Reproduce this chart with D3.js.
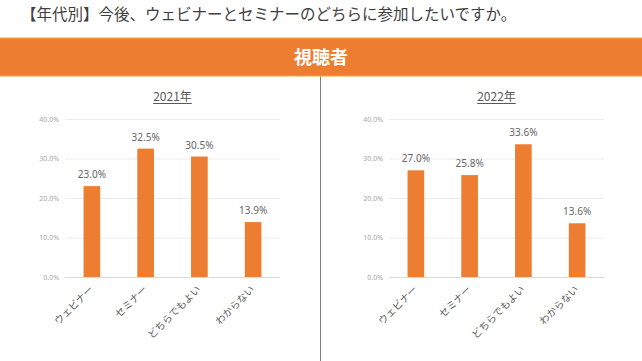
<!DOCTYPE html>
<html>
<head>
<meta charset="utf-8">
<script src="https://cdn.jsdelivr.net/npm/d3@7"></script>
<style>
  body { margin: 0; background: #fff; }
  svg { display: block; font-family: "Noto Sans CJK JP", "Noto Sans", sans-serif; }
</style>
</head>
<body>
<script>
// data
let categories = ['ウェビナー', 'セミナー', 'どちらでもよい', 'わからない'];
let values2021 = [23.0, 32.5, 30.5, 13.9];
let values2022 = [27.0, 25.8, 33.6, 13.6];
let yTicks = [0, 10, 20, 30, 40];

let W = 642, H = 361;
let svg = d3.select('body').append('svg')
    .attr('width', W)
    .attr('height', H);

// page heading
svg.append('text')
    .attr('x', 21)
    .attr('y', 20)
    .style('font-size', '15.5px')
    .style('fill', '#404040')
    .text('【年代別】今後、ウェビナーとセミナーのどちらに参加したいですか。');

// orange banner
svg.append('rect')
    .attr('x', -1).attr('y', 38)
    .attr('width', W + 2).attr('height', 38)
    .style('fill', '#ED7D31')
    .style('stroke', '#F7A833')
    .style('stroke-width', 1);
svg.append('text')
    .attr('x', W / 2).attr('y', 64)
    .style('text-anchor', 'middle')
    .style('font-size', '18px')
    .style('font-weight', 'bold')
    .style('fill', '#fff')
    .text('視聴者');

// divider
svg.append('line')
    .attr('x1', 320.5).attr('x2', 320.5)
    .attr('y1', 76.5).attr('y2', H)
    .style('stroke', '#7f7f7f')
    .style('stroke-width', 1);

function drawChart(title, values, left, right) {
    let y = d3.scaleLinear().domain([0, 40]).range([277, 119]);
    let x = d3.scaleBand().domain(categories).range([left, right]).paddingInner(0.69).paddingOuter(0.345);

    let g = svg.append('g');

    // gridlines
    g.selectAll('.grid')
        .data(yTicks)
      .enter().append('line')
        .attr('x1', left).attr('x2', right)
        .attr('y1', d => y(d) + 0.5).attr('y2', d => y(d) + 0.5)
        .style('stroke', d => d === 0 ? '#d9d9d9' : '#ececec')
        .style('stroke-width', 1);

    // y labels
    let yAxis = d3.axisLeft(y).tickValues(yTicks).tickSize(0).tickPadding(0)
        .tickFormat(d => d.toFixed(1) + '%');
    let ya = g.append('g')
        .attr('transform', 'translate(' + (left - 6) + ',0)')
        .call(yAxis);
    ya.select('.domain').remove();
    ya.selectAll('text')
        .style('font-size', '7px')
        .style('fill', '#a6a6a6')
        .style('font-family', '"Noto Sans", sans-serif');

    // bars
    g.selectAll('.bar')
        .data(values)
      .enter().append('rect')
        .attr('x', (d, i) => x(categories[i]))
        .attr('y', d => y(d))
        .attr('width', x.bandwidth())
        .attr('height', d => y(0) - y(d))
        .style('fill', '#ED7D31');

    // value labels
    g.selectAll('.val')
        .data(values)
      .enter().append('text')
        .attr('x', (d, i) => x(categories[i]) + x.bandwidth() / 2)
        .attr('y', d => y(d) - 8)
        .style('text-anchor', 'middle')
        .style('font-size', '10px')
        .style('fill', '#666')
        .style('font-family', '"Noto Sans", sans-serif')
        .text(d => d.toFixed(1) + '%');

    // category labels rotated
    g.selectAll('.cat')
        .data(categories)
      .enter().append('text')
        .attr('transform', d => 'translate(' + (x(d) + x.bandwidth() / 2 + 2) + ',290) rotate(-45)')
        .style('text-anchor', 'end')
        .style('font-size', '10px')
        .style('fill', '#595959')
        .text(d => d);

    // chart title
    let cx = (left + right) / 2;
    let t = g.append('text')
        .attr('x', cx).attr('y', 101)
        .style('text-anchor', 'middle')
        .style('font-size', '12px')
        .style('fill', '#595959')
        .text(title);
    let bb = t.node().getBBox();
    g.append('line')
        .attr('x1', bb.x).attr('x2', bb.x + bb.width)
        .attr('y1', 103.5).attr('y2', 103.5)
        .style('stroke', '#595959')
        .style('stroke-width', 1);
}

drawChart('2021年', values2021, 65, 280);
drawChart('2022年', values2022, 389, 604);
</script>
</body>
</html>
